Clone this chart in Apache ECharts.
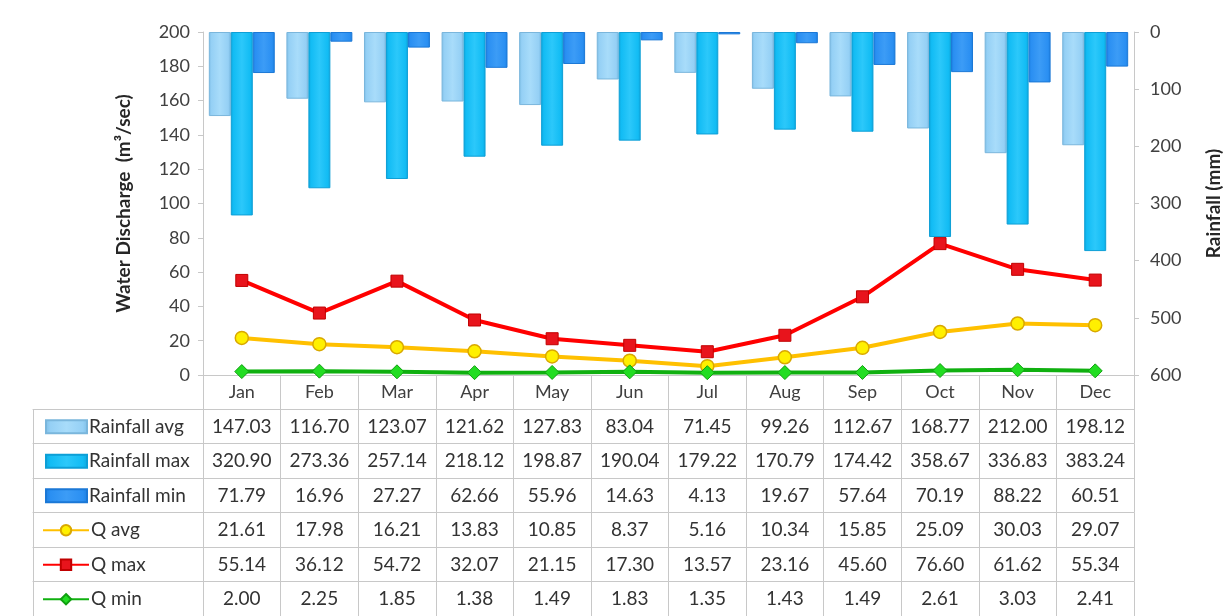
<!DOCTYPE html>
<html>
<head>
<meta charset="utf-8">
<script src="https://cdn.jsdelivr.net/npm/echarts@6/dist/echarts.min.js"></script>
<style>
  html, body { margin: 0; padding: 0; background: #fff; }
  #chart { width: 1231px; height: 616px; }
</style>
</head>
<body>
<div id="chart"></div>
<script>
const months = ["Jan", "Feb", "Mar", "Apr", "May", "Jun", "Jul", "Aug", "Sep", "Oct", "Nov", "Dec"];
const rainAvg = [147.03, 116.70, 123.07, 121.62, 127.83, 83.04, 71.45, 99.26, 112.67, 168.77, 212.00, 198.12];
const rainMax = [320.90, 273.36, 257.14, 218.12, 198.87, 190.04, 179.22, 170.79, 174.42, 358.67, 336.83, 383.24];
const rainMin = [71.79, 16.96, 27.27, 62.66, 55.96, 14.63, 4.13, 19.67, 57.64, 70.19, 88.22, 60.51];
const qAvg = [21.61, 17.98, 16.21, 13.83, 10.85, 8.37, 5.16, 10.34, 15.85, 25.09, 30.03, 29.07];
const qMax = [55.14, 36.12, 54.72, 32.07, 21.15, 17.30, 13.57, 23.16, 45.60, 76.60, 61.62, 55.34];
const qMin = [2.00, 2.25, 1.85, 1.38, 1.49, 1.83, 1.35, 1.43, 1.49, 2.61, 3.03, 2.41];
const seriesNames = ["Rainfall avg", "Rainfall max", "Rainfall min", "Q avg", "Q max", "Q min"];
const tableRows = [rainAvg, rainMax, rainMin, qAvg, qMax, qMin];

const font = "Lato, 'Liberation Sans', sans-serif";
const gridColor = "#c8c8c8";
const textColor = "#333";
const rowH = 34.5;
const firstRow = 34;

function barGrad(edge, mid, light) {
  return new echarts.graphic.LinearGradient(0, 0, 1, 0, [
    { offset: 0, color: edge },
    { offset: 0.12, color: mid },
    { offset: 0.5, color: light },
    { offset: 0.88, color: mid },
    { offset: 1, color: edge },
  ]);
}

// table rows drawn as extra category axes under the plot
const tableAxes = tableRows.map((vals, k) => ({
  type: "category",
  gridIndex: 0,
  position: "bottom",
  offset: firstRow + rowH * k,
  data: vals.map((v) => v.toFixed(2)),
  axisLine: { show: true, onZero: false, lineStyle: { color: gridColor, width: 1 } },
  axisTick: { show: true, length: rowH, interval: 0, lineStyle: { color: gridColor } },
  axisLabel: { margin: 8, interval: 0, fontSize: 19, color: textColor, fontFamily: font },
}));

// left column of the table (legend cells)
const legendAxes = tableRows.map((vals, k) => ({
  type: "category",
  gridIndex: 1,
  position: "bottom",
  offset: firstRow + rowH * k,
  data: [""],
  axisLine: { show: true, onZero: false, lineStyle: { color: gridColor, width: 1 } },
  axisTick: { show: true, length: rowH, lineStyle: { color: gridColor } },
  axisLabel: { show: false },
}));

// one legend per table row so each sits in its own cell
const legends = seriesNames.map((name, k) => ({
  orient: "vertical",
  left: k < 3 ? 40 : 37,
  top: 409 + rowH * k + (rowH - 20) / 2 - 4,
  itemWidth: k < 3 ? 41 : 46,
  itemHeight: 13,
  itemGap: 0,
  selectedMode: false,
  textStyle: { fontSize: 19, color: textColor, fontFamily: font, padding: [0, 0, 0, -3] },
  data: [k < 3 ? { name: name, icon: "rect" } : { name: name }],
}));

const chart = echarts.init(document.getElementById("chart"));
chart.setOption({
  backgroundColor: "#fff",
  animation: false,
  textStyle: { fontFamily: font },
  grid: [
    { left: 203, right: 91, top: 32, bottom: 241 },
    { left: 33, width: 170, top: 32, bottom: 241 },
  ],
  legend: legends,
  xAxis: [
    {
      type: "category",
      gridIndex: 0,
      position: "bottom",
      data: months,
      axisLine: { show: true, onZero: false, lineStyle: { color: gridColor, width: 1 } },
      axisTick: { show: true, length: firstRow, interval: 0, lineStyle: { color: gridColor } },
      axisLabel: { margin: 8, interval: 0, fontSize: 18, color: "#404040", fontFamily: font },
    },
    ...tableAxes,
    ...legendAxes,
  ],
  yAxis: [
    {
      type: "value",
      gridIndex: 0,
      min: 0,
      max: 200,
      interval: 20,
      name: "Water Discharge  (m³/sec)",
      nameLocation: "middle",
      nameRotate: 90,
      nameGap: 70,
      nameTextStyle: { fontSize: 19, fontWeight: "bold", color: "#262626", fontFamily: font },
      axisLine: { show: true, lineStyle: { color: gridColor } },
      axisTick: { show: true, length: 5, lineStyle: { color: gridColor } },
      axisLabel: { fontSize: 18, color: "#404040", margin: 13, fontFamily: font },
      splitLine: { show: false },
    },
    {
      type: "value",
      gridIndex: 0,
      position: "right",
      inverse: true,
      min: 0,
      max: 600,
      interval: 100,
      name: "Rainfall (mm)",
      nameLocation: "middle",
      nameRotate: 90,
      nameGap: 70,
      nameTextStyle: { fontSize: 19, fontWeight: "bold", color: "#262626", fontFamily: font },
      axisLine: { show: true, lineStyle: { color: gridColor } },
      axisTick: { show: true, length: 5, lineStyle: { color: gridColor } },
      axisLabel: { fontSize: 18, color: "#404040", margin: 16, fontFamily: font },
      splitLine: { show: false },
    },
    {
      type: "value",
      gridIndex: 1,
      show: false,
    },
  ],
  series: [
    {
      name: "Rainfall avg",
      type: "bar",
      yAxisIndex: 1,
      data: rainAvg,
      barGap: "0%",
      barCategoryGap: "15%",
      itemStyle: { color: barGrad("#7dbde6", "#95d0f5", "#a8dcfa"), borderColor: "#7ab6dc", borderWidth: 1 },
    },
    {
      name: "Rainfall max",
      type: "bar",
      yAxisIndex: 1,
      data: rainMax,
      barGap: "0%",
      barCategoryGap: "15%",
      itemStyle: { color: barGrad("#0ea6dc", "#12bcf4", "#2cc8fa"), borderColor: "#0d9fd6", borderWidth: 1 },
    },
    {
      name: "Rainfall min",
      type: "bar",
      yAxisIndex: 1,
      data: rainMin,
      barGap: "0%",
      barCategoryGap: "15%",
      itemStyle: { color: barGrad("#1c7ee0", "#2a8ff2", "#3c9cf6"), borderColor: "#1b78d6", borderWidth: 1 },
    },
    {
      name: "Q avg",
      type: "line",
      yAxisIndex: 0,
      data: qAvg,
      symbol: "circle",
      symbolSize: 13,
      lineStyle: { color: "#ffc000", width: 4 },
      itemStyle: { color: "#fff000", borderColor: "#d9a800", borderWidth: 1.5 },
      z: 5,
    },
    {
      name: "Q max",
      type: "line",
      yAxisIndex: 0,
      data: qMax,
      symbol: "rect",
      symbolSize: 12,
      lineStyle: { color: "#ff0000", width: 4 },
      itemStyle: { color: "#e8141c", borderColor: "#c00000", borderWidth: 1 },
      z: 5,
    },
    {
      name: "Q min",
      type: "line",
      yAxisIndex: 0,
      data: qMin,
      symbol: "diamond",
      symbolSize: 14,
      lineStyle: { color: "#10b010", width: 4 },
      itemStyle: { color: "#22dd22", borderColor: "#10a010", borderWidth: 1 },
      z: 5,
    },
  ],
});
</script>
</body>
</html>
